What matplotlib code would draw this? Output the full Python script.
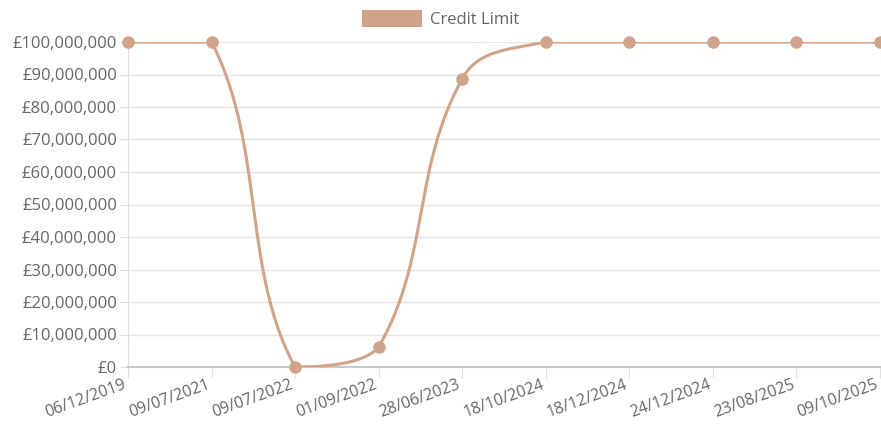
import numpy as np
import matplotlib.pyplot as plt
from matplotlib.patches import Patch
from matplotlib.ticker import FuncFormatter
from matplotlib.transforms import ScaledTranslation

dates = ['06/12/2019', '09/07/2021', '09/07/2022', '01/09/2022', '28/06/2023',
         '18/10/2024', '18/12/2024', '24/12/2024', '23/08/2025', '09/10/2025']
credit_limit = [100000000, 100000000, 0, 6200000, 88700000,
                100000000, 100000000, 100000000, 100000000, 100000000]

COL = '#cfa48a'
GREY = '#666666'


def spline_path(ax, xv, yv, tension=0.4, steps=60):
    # chart.js style bezier (tension 0.4) worked out in pixel space,
    # control points capped to the plot area
    pts = ax.transData.transform(np.column_stack([xv, yv]))
    bb = ax.bbox
    n = len(pts)
    cps = []
    for i in range(n):
        cur = pts[i]
        prev = pts[i - 1] if i > 0 else cur
        nxt = pts[i + 1] if i < n - 1 else cur
        d01 = np.hypot(*(cur - prev))
        d12 = np.hypot(*(nxt - cur))
        tot = d01 + d12
        s01 = d01 / tot if tot else 0
        s12 = d12 / tot if tot else 0
        cp_prev = cur - tension * s01 * (nxt - prev)
        cp_next = cur + tension * s12 * (nxt - prev)
        for cp in (cp_prev, cp_next):
            cp[0] = min(max(cp[0], bb.x0), bb.x1)
            cp[1] = min(max(cp[1], bb.y0), bb.y1)
        cps.append((cp_prev, cp_next))
    out = []
    t = np.linspace(0, 1, steps)[:, None]
    for i in range(n - 1):
        p0, p1, p2, p3 = pts[i], cps[i][1], cps[i + 1][0], pts[i + 1]
        seg = ((1 - t)**3 * p0 + 3 * (1 - t)**2 * t * p1
               + 3 * (1 - t) * t**2 * p2 + t**3 * p3)
        out.append(seg)
    out = np.vstack(out)
    return ax.transData.inverted().transform(out)


plt.rcParams['font.family'] = ['Open Sans', 'DejaVu Sans']

fig = plt.figure(figsize=(8.81, 4.28), dpi=100)
ax = fig.add_axes([128 / 881, 1 - 367 / 428, 752 / 881, 325 / 428])

x = np.arange(len(dates))
ax.set_xlim(0, len(dates) - 1)
ax.set_ylim(0, 100000000)

curve = spline_path(ax, x, credit_limit)
ax.plot(curve[:, 0], curve[:, 1], color=COL, lw=2.2, zorder=3)
ax.plot(x, credit_limit, 'o', color=COL, ms=8, clip_on=False, zorder=4)

ax.set_yticks(np.arange(0, 100000001, 10000000))
ax.yaxis.set_major_formatter(FuncFormatter(lambda v, p: '£{:,.0f}'.format(v)))
ax.set_xticks(x)
ax.set_xticklabels([])

# rotated date labels, nudged a little left of each tick like chart.js
shift = ScaledTranslation(-5 / 100, -10 / 100, fig.dpi_scale_trans)
for xi, d in zip(x, dates):
    ax.text(xi, 0, d, transform=ax.get_xaxis_transform() + shift,
            rotation=20, ha='right', va='top', rotation_mode='anchor',
            fontsize=11.5, color=GREY, clip_on=False)

ax.grid(axis='y', color='#e5e5e5', lw=1)
ax.set_axisbelow(True)
for s in ['top', 'right']:
    ax.spines[s].set_visible(False)
ax.spines['left'].set_color('#e0e0e0')
ax.spines['bottom'].set_color('#c8c8c8')
ax.spines['bottom'].set_linewidth(1.5)
ax.tick_params(axis='y', colors='#e0e0e0', labelcolor=GREY, labelsize=12, length=6, pad=2)
ax.tick_params(axis='x', colors='#e0e0e0', length=8)

fig.legend(handles=[Patch(facecolor=COL, edgecolor='none', label='Credit Limit')],
           loc='center', bbox_to_anchor=(0.5, 1 - 19 / 428), frameon=False,
           handlelength=3.6, handleheight=1.2, handletextpad=0.45,
           fontsize=12, labelcolor=GREY)

fig.savefig('out.png', dpi=100)
